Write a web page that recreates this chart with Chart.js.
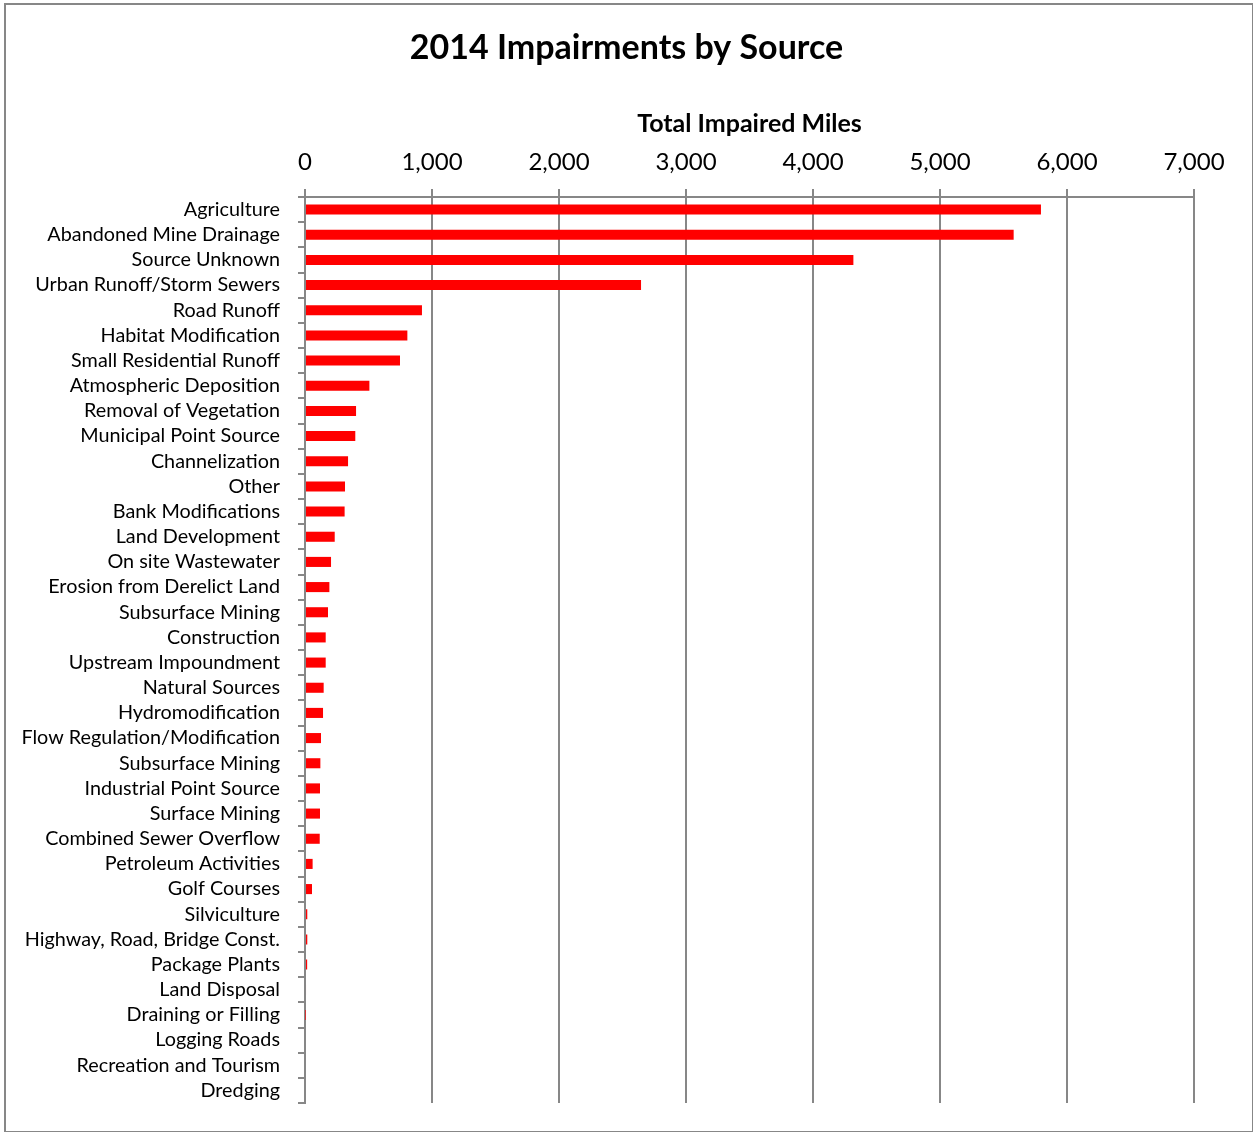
<!DOCTYPE html>
<html>
<head>
<meta charset="utf-8">
<script src="https://cdn.jsdelivr.net/npm/chart.js@4/dist/chart.umd.min.js"></script>
<style>
  html, body { margin: 0; padding: 0; background: #fff; }
  #wrap { position: relative; width: 1253px; height: 1132px; }
  #frame {
    position: absolute; left: 4px; top: 3px; width: 1249px; height: 1130px;
    border: 2px solid #878787; border-right-width: 1px; box-sizing: border-box; pointer-events: none;
  }
</style>
</head>
<body>
<div id="wrap">
  <canvas id="chart" width="1253" height="1132"></canvas>
  <div id="frame"></div>
</div>
<script>
// datos
const categorias = [
  'Agriculture', 'Abandoned Mine Drainage', 'Source Unknown', 'Urban Runoff/Storm Sewers',
  'Road Runoff', 'Habitat Modification', 'Small Residential Runoff', 'Atmospheric Deposition',
  'Removal of Vegetation', 'Municipal Point Source', 'Channelization', 'Other',
  'Bank Modifications', 'Land Development', 'On site Wastewater', 'Erosion from Derelict Land',
  'Subsurface Mining', 'Construction', 'Upstream Impoundment', 'Natural Sources',
  'Hydromodification', 'Flow Regulation/Modification', 'Subsurface Mining', 'Industrial Point Source',
  'Surface Mining', 'Combined Sewer Overflow', 'Petroleum Activities', 'Golf Courses',
  'Silviculture', 'Highway, Road, Bridge Const.', 'Package Plants', 'Land Disposal',
  'Draining or Filling', 'Logging Roads', 'Recreation and Tourism', 'Dredging',
];
const millas = [
  5795, 5580, 4318, 2646,
  921, 806, 748, 507,
  402, 396, 339, 315,
  312, 234, 205, 192,
  181, 163, 163, 147,
  142, 126, 121, 118,
  118, 116, 60, 55,
  18, 18, 17, 8,
  3, 0, 0, 0,
];
const ticksX = [0, 1000, 2000, 3000, 4000, 5000, 6000, 7000];

const fuente = 'Lato, "Open Sans", sans-serif';
const gris = '#878787';

const ctx = document.getElementById('chart').getContext('2d');
new Chart(ctx, {
  type: 'bar',
  data: {
    labels: categorias,
    datasets: [
      {
        label: 'Total Impaired Miles',
        data: millas,
        backgroundColor: '#ff0000',
        borderWidth: 0,
        barPercentage: 0.4,
        categoryPercentage: 1,
      },
    ],
  },
  options: {
    indexAxis: 'y',
    responsive: false,
    animation: false,
    layout: { padding: { left: 0, right: 0, top: 0, bottom: 29 } },
    plugins: {
      legend: { display: false },
      tooltip: { enabled: false },
      title: {
        display: true,
        text: '2014 Impairments by Source',
        color: '#000',
        font: { family: fuente, size: 34, weight: 'bold', lineHeight: 1.2 },
        padding: { top: 27.6, bottom: 10 },
      },
    },
    scales: {
      x: {
        position: 'top',
        min: ticksX[0],
        max: ticksX[ticksX.length - 1],
        afterBuildTicks: (scale) => {
          scale.ticks = ticksX.map((v) => ({ value: v }));
        },
        afterFit: (scale) => {
          // reservar el margen derecho aqui para que el titulo quede centrado en todo el ancho
          scale.height = 118.6;
          scale.paddingLeft = 0;
          scale.paddingRight = 59;
        },
        ticks: {
          color: '#000',
          font: { family: fuente, size: 24 },
          padding: 12.6,
          maxRotation: 0,
          callback: (v) => v.toLocaleString('en-US'),
        },
        grid: { color: gris, lineWidth: 2, tickLength: 8 },
        border: { color: gris, width: 2 },
        title: {
          display: true,
          text: 'Total Impaired Miles',
          color: '#000',
          font: { family: fuente, size: 25, weight: 'bold', lineHeight: 1.2 },
          padding: { top: 30.6, bottom: 0 },
        },
      },
      y: {
        afterFit: (scale) => {
          scale.width = 305;
          scale.paddingTop = 0;
          scale.paddingBottom = 0;
        },
        ticks: {
          color: '#000',
          font: { family: fuente, size: 19.8 },
          padding: 18,
          autoSkip: false,
        },
        grid: { drawOnChartArea: false, color: gris, lineWidth: 2, tickLength: 7, offset: true },
        border: { color: gris, width: 2 },
      },
    },
  },
});
</script>
</body>
</html>
